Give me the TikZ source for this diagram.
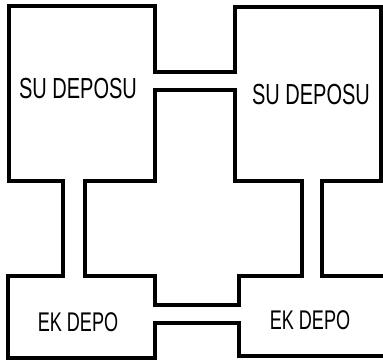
\documentclass[tikz,border=0pt]{standalone}
\usepackage{fontspec}
\setmainfont{Liberation Sans}
\begin{document}
\begin{tikzpicture}[x=1pt,y=-1pt,
  wall/.style={line width=3.3pt,line join=miter,draw=black},
  lbl/.style={font=\fontsize{29}{29}\selectfont,xscale=0.69,inner sep=0pt,transform shape},
  lbls/.style={font=\fontsize{27}{27}\selectfont,xscale=0.67,inner sep=0pt,transform shape}]
\useasboundingbox (0,0) rectangle (383,361);
\clip (0,0) rectangle (383,361);
% outer outline (right end of lower right tank is open)
\draw[wall] (392,356) -- (239,356) -- (239,323) -- (155,323) -- (155,358) -- (8,358)
  -- (8,276) -- (63,276) -- (63,181) -- (9,181) -- (9,6) -- (155,6) -- (155,72)
  -- (235,72) -- (235,7) -- (381,7) -- (381,181) -- (322,181) -- (322,276) -- (392,276);
% inner outline
\draw[wall] (155,90) -- (235,90) -- (235,181) -- (302,181) -- (302,276) -- (239,276)
  -- (239,305) -- (155,305) -- (155,276) -- (85,276) -- (85,181) -- (155,181) -- cycle;
\begin{scope}[y=1pt]
\node[lbl] (tl) at (78,-89) {SU DEPOSU};
\node[lbl] (tr) at (311,-95) {SU DEPOSU};
\node[lbls] (bl) at (78,-322) {EK DEPO};
\node[lbls] (br) at (310,-320) {EK DEPO};
\end{scope}
\end{tikzpicture}
\end{document}
